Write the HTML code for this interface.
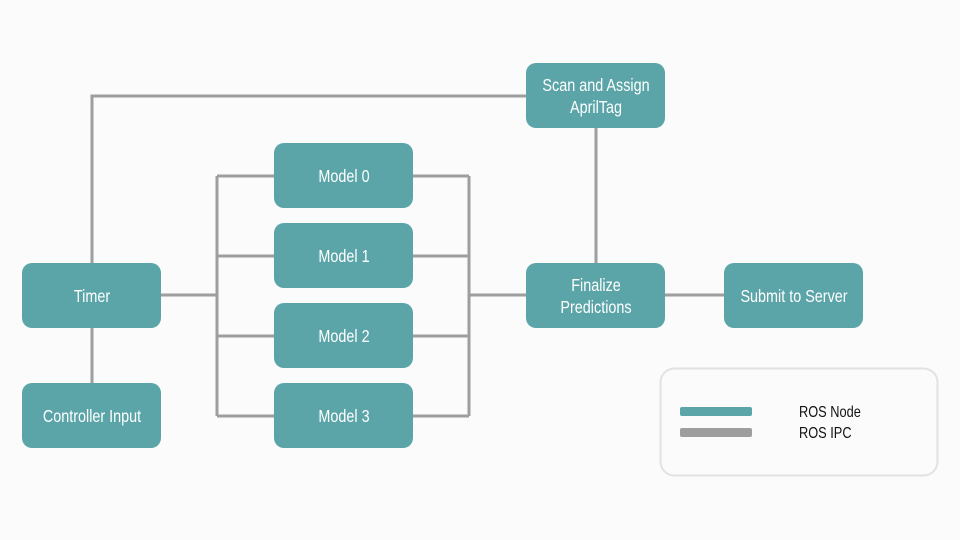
<!DOCTYPE html>
<html><head><meta charset="utf-8"><style>
html,body{margin:0;padding:0;background:#fbfbfb;}
svg{display:block;}
text{font-family:"Liberation Sans Narrow","Liberation Sans",sans-serif;font-size:18px;fill:#fff;text-anchor:middle;}
</style></head><body>
<svg width="960" height="540" viewBox="0 0 960 540">
<rect width="960" height="540" fill="#fbfbfb"/>
<g stroke="#9e9e9e" stroke-width="3" fill="none">
<polyline points="92,263 92,96 526,96"/>
<line x1="92" y1="328" x2="92" y2="383"/>
<line x1="161" y1="295" x2="217" y2="295"/>
<line x1="217" y1="176" x2="217" y2="416"/>
<line x1="217" y1="176" x2="274" y2="176"/>
<line x1="217" y1="256" x2="274" y2="256"/>
<line x1="217" y1="336" x2="274" y2="336"/>
<line x1="217" y1="416" x2="274" y2="416"/>
<line x1="413" y1="176" x2="469" y2="176"/>
<line x1="413" y1="256" x2="469" y2="256"/>
<line x1="413" y1="336" x2="469" y2="336"/>
<line x1="413" y1="416" x2="469" y2="416"/>
<line x1="469" y1="176" x2="469" y2="416"/>
<line x1="469" y1="295" x2="526" y2="295"/>
<line x1="596" y1="128" x2="596" y2="263"/>
<line x1="665" y1="295" x2="724" y2="295"/>
</g>
<g fill="#5ba5a9">
<rect x="22" y="263" width="139" height="65" rx="10"/>
<rect x="22" y="383" width="139" height="65" rx="10"/>
<rect x="274" y="143" width="139" height="65" rx="10"/>
<rect x="274" y="223" width="139" height="65" rx="10"/>
<rect x="274" y="303" width="139" height="65" rx="10"/>
<rect x="274" y="383" width="139" height="65" rx="10"/>
<rect x="526" y="63" width="139" height="65" rx="10"/>
<rect x="526" y="263" width="139" height="65" rx="10"/>
<rect x="724" y="263" width="139" height="65" rx="10"/>
</g>
<text transform="translate(92,302) scale(0.8,1)">Timer</text>
<text transform="translate(92,422) scale(0.8,1)">Controller Input</text>
<text transform="translate(344,182) scale(0.8,1)">Model 0</text>
<text transform="translate(344,262) scale(0.8,1)">Model 1</text>
<text transform="translate(344,342) scale(0.8,1)">Model 2</text>
<text transform="translate(344,422) scale(0.8,1)">Model 3</text>
<text transform="translate(596,91) scale(0.8,1)">Scan and Assign</text>
<text transform="translate(596,113) scale(0.8,1)">AprilTag</text>
<text transform="translate(596,291) scale(0.8,1)">Finalize</text>
<text transform="translate(596,313) scale(0.8,1)">Predictions</text>
<text transform="translate(794,302) scale(0.8,1)">Submit to Server</text>
<rect x="660.5" y="368.5" width="277" height="107" rx="14" fill="#fbfbfb" stroke="#e2e2e2" stroke-width="2"/>
<rect x="680" y="407" width="72" height="9" rx="2" fill="#5ba5a9"/>
<rect x="680" y="428" width="72" height="9" rx="2" fill="#9e9e9e"/>
<text transform="translate(799,417) scale(0.8,1)" style="fill:#111;text-anchor:start;font-size:16px">ROS Node</text>
<text transform="translate(799,438) scale(0.8,1)" style="fill:#111;text-anchor:start;font-size:16px">ROS IPC</text>
</svg>
</body></html>
